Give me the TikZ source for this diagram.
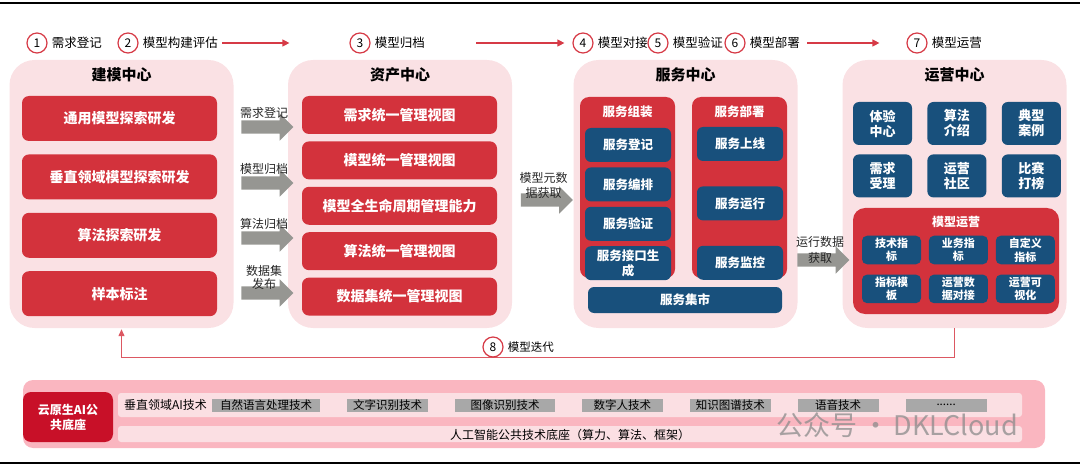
\documentclass[tikz,border=0pt]{standalone}
\usepackage{fontspec}
\setmainfont{Noto Sans CJK SC}
\usepackage{tikz}
\usetikzlibrary{shapes.geometric, shapes.arrows, arrows.meta, positioning, calc}
\definecolor{panel_bg}{RGB}{250, 225, 228}
\definecolor{box_red}{RGB}{211, 50, 60}
\definecolor{box_blue}{RGB}{24, 80, 124}
\definecolor{arrow_gray}{RGB}{150, 150, 146}
\definecolor{step_red}{RGB}{214, 58, 70}
\definecolor{base_pink}{RGB}{250, 182, 192}
\definecolor{strip_pink}{RGB}{251, 223, 227}
\definecolor{chip_gray}{RGB}{168, 168, 168}
\definecolor{base_red}{RGB}{200, 16, 40}
\tikzstyle{panel} = [rectangle, rounded corners=25pt, fill=panel_bg, minimum width=224pt, minimum height=268pt]
\tikzstyle{centertitle} = [font=\bfseries\fontsize{15}{17}\selectfont]
\tikzstyle{redbox} = [rectangle, rounded corners=7pt, fill=box_red, text=white, minimum width=195pt, font=\bfseries\fontsize{14}{16}\selectfont]
\tikzstyle{bluebox} = [rectangle, rounded corners=6pt, fill=box_blue, text=white, inner sep=1pt, align=center]
\tikzstyle{stepnum} = [circle, draw=step_red, line width=1.2pt, minimum size=20pt, inner sep=0pt, font=\fontsize{12}{12}\selectfont]
\tikzstyle{steplabel} = [inner sep=1pt, font=\fontsize{12.5}{14}\selectfont]
\tikzstyle{fatarrow} = [single arrow, fill=arrow_gray, minimum height=52pt, inner xsep=0pt, inner ysep=6.5pt, single arrow head extend=7pt]
\tikzstyle{arrowlabel} = [inner sep=1pt, align=center, text=black!85, font=\fontsize{12}{13}\selectfont]
\tikzstyle{chip} = [rectangle, fill=chip_gray, minimum height=13pt, inner sep=0pt, text depth=0pt, font=\fontsize{11.5}{12}\selectfont]
\tikzstyle{arrow} = [line width=1.2pt, draw=step_red, -{Triangle[length=7pt, width=7pt]}]

\begin{document}
\begin{tikzpicture}[x=1pt, y=-1pt]
\useasboundingbox (0,0) rectangle (1080,468);

% Frame lines
\draw[line width=1.5pt] (0,3) -- (1080,3);
\draw[line width=1.5pt] (0,463) -- (1080,463);

% Step row
\node[stepnum] (n1) at (37,43) {1};
\node[steplabel, right=3pt of n1] (t1) {需求登记};
\node[stepnum] (n2) at (128,43) {2};
\node[steplabel, right=3pt of n2] (t2) {模型构建评估};
\node[stepnum] (n3) at (360,43) {3};
\node[steplabel, right=3pt of n3] (t3) {模型归档};
\node[stepnum] (n4) at (583,43) {4};
\node[steplabel, right=3pt of n4] (t4) {模型对接};
\node[stepnum] (n5) at (658,43) {5};
\node[steplabel, right=3pt of n5] (t5) {模型验证};
\node[stepnum] (n6) at (735,43) {6};
\node[steplabel, right=3pt of n6] (t6) {模型部署};
\node[stepnum] (n7) at (917,43) {7};
\node[steplabel, right=3pt of n7] (t7) {模型运营};

\draw[arrow, shorten <=3pt, shorten >=60pt] (t2.east) -- (n3.west);
\draw[arrow, shorten <=50pt, shorten >=8pt] (t3.east) -- (n4.west);
\draw[arrow, shorten <=6pt, shorten >=27pt] (t6.east) -- (n7.west);

% Modeling center
\node[panel] (jm) at (121.5,194) {};
\node[centertitle, below=4pt of jm.north] (jm_title) {建模中心};
\node[redbox, minimum height=45pt] (jm1) at (119.5,118.5) {通用模型探索研发};
\node[redbox, minimum height=45pt, below=13pt of jm1] (jm2) {垂直领域模型探索研发};
\node[redbox, minimum height=45pt, below=13pt of jm2] (jm3) {算法探索研发};
\node[redbox, minimum height=45pt, below=13pt of jm3] (jm4) {样本标注};

% Asset center
\node[panel] (zc) at (400,194) {};
\node[centertitle, below=4pt of zc.north] (zc_title) {资产中心};
\node[redbox, minimum height=38pt] (zc1) at (399.5,115) {需求统一管理视图};
\node[redbox, minimum height=38pt, below=7pt of zc1] (zc2) {模型统一管理视图};
\node[redbox, minimum height=38pt, below=7pt of zc2] (zc3) {模型全生命周期管理能力};
\node[redbox, minimum height=38pt, below=7pt of zc3] (zc4) {算法统一管理视图};
\node[redbox, minimum height=38pt, below=7pt of zc4] (zc5) {数据集统一管理视图};

% Arrows into asset center
\node[fatarrow] (a1) at (264,127) {};
\node[fatarrow] (a2) at (264,183) {};
\node[fatarrow] (a3) at (264,238) {};
\node[fatarrow] (a4) at (264,293) {};
\node[arrowlabel, above=0pt of a1] {需求登记};
\node[arrowlabel, above=0pt of a2] {模型归档};
\node[arrowlabel, above=0pt of a3] {算法归档};
\node[arrowlabel, above=-5pt of a4] {数据集\\发布};

% Service center
\node[panel] (fw) at (685.5,194) {};
\node[centertitle, below=4pt of fw.north] (fw_title) {服务中心};
\node[fatarrow] (a5) at (543.5,200) {};
\node[arrowlabel, above=-7pt of a5, font=\fontsize{12}{15}\selectfont] {模型元数\\据获取};

\node[rectangle, rounded corners=9pt, fill=box_red, minimum width=95pt, minimum height=181pt] (fw_l) at (627.5,187.5) {};
\node[text=white, font=\bfseries\fontsize{12.5}{14}\selectfont, below=5pt of fw_l.north] {服务组装};
\node[bluebox, minimum width=86pt, minimum height=34pt, font=\bfseries\fontsize{12.5}{15}\selectfont] (fl1) at (628,145) {服务登记};
\node[bluebox, minimum width=86pt, minimum height=34pt, font=\bfseries\fontsize{12.5}{15}\selectfont, below=5pt of fl1] (fl2) {服务编排};
\node[bluebox, minimum width=86pt, minimum height=34pt, font=\bfseries\fontsize{12.5}{15}\selectfont, below=5pt of fl2] (fl3) {服务验证};
\node[bluebox, minimum width=86pt, minimum height=34pt, font=\bfseries\fontsize{12.5}{15}\selectfont, below=5pt of fl3] (fl4) {服务接口生\\成};

\node[rectangle, rounded corners=9pt, fill=box_red, minimum width=95pt, minimum height=181pt] (fw_r) at (739.5,187.5) {};
\node[text=white, font=\bfseries\fontsize{12.5}{14}\selectfont, below=5pt of fw_r.north] {服务部署};
\node[bluebox, minimum width=86pt, minimum height=34pt, font=\bfseries\fontsize{12.5}{15}\selectfont] (fr1) at (740,144) {服务上线};
\node[bluebox, minimum width=86pt, minimum height=34pt, font=\bfseries\fontsize{12.5}{15}\selectfont, below=25pt of fr1] (fr2) {服务运行};
\node[bluebox, minimum width=86pt, minimum height=34pt, font=\bfseries\fontsize{12.5}{15}\selectfont, below=25pt of fr2] (fr3) {服务监控};

\node[bluebox, minimum width=194pt, minimum height=26pt, font=\bfseries\fontsize{12.5}{15}\selectfont] (fw_m) at (685,300) {服务集市};

% Operation center
\node[panel] (yy) at (954.5,194) {};
\node[centertitle, below=4pt of yy.north] (yy_title) {运营中心};
\node[fatarrow] (a6) at (820,260) {};
\node[arrowlabel, above=-12pt of a6, font=\fontsize{12}{16}\selectfont] {运行数据\\获取};

\node[bluebox, minimum width=59pt, minimum height=43pt, font=\bfseries\fontsize{13}{15}\selectfont] (y1) at (882.5,123.5) {体验\\中心};
\node[bluebox, minimum width=59pt, minimum height=43pt, font=\bfseries\fontsize{13}{15}\selectfont, right=15pt of y1] (y2) {算法\\介绍};
\node[bluebox, minimum width=59pt, minimum height=43pt, font=\bfseries\fontsize{13}{15}\selectfont, right=15pt of y2] (y3) {典型\\案例};
\node[bluebox, minimum width=59pt, minimum height=43pt, font=\bfseries\fontsize{13}{15}\selectfont, below=9pt of y1] (y4) {需求\\受理};
\node[bluebox, minimum width=59pt, minimum height=43pt, font=\bfseries\fontsize{13}{15}\selectfont, right=15pt of y4] (y5) {运营\\社区};
\node[bluebox, minimum width=59pt, minimum height=43pt, font=\bfseries\fontsize{13}{15}\selectfont, right=15pt of y5] (y6) {比赛\\打榜};

\node[rectangle, rounded corners=12pt, fill=box_red, minimum width=206pt, minimum height=106pt] (yy_m) at (956,261) {};
\node[text=white, font=\bfseries\fontsize{12}{14}\selectfont, below=5pt of yy_m.north] {模型运营};
\node[bluebox, rounded corners=5pt, minimum width=59pt, minimum height=28.5pt, font=\bfseries\fontsize{11}{13.5}\selectfont] (m1) at (891.5,250) {技术指\\标};
\node[bluebox, rounded corners=5pt, minimum width=59pt, minimum height=28.5pt, font=\bfseries\fontsize{11}{13.5}\selectfont, right=7.5pt of m1] (m2) {业务指\\标};
\node[bluebox, rounded corners=5pt, minimum width=59pt, minimum height=28.5pt, font=\bfseries\fontsize{11}{13.5}\selectfont, right=7.5pt of m2] (m3) {自定义\\指标};
\node[bluebox, rounded corners=5pt, minimum width=59pt, minimum height=28.5pt, font=\bfseries\fontsize{11}{13.5}\selectfont, below=10pt of m1] (m4) {指标模\\板};
\node[bluebox, rounded corners=5pt, minimum width=59pt, minimum height=28.5pt, font=\bfseries\fontsize{11}{13.5}\selectfont, right=7.5pt of m4] (m5) {运营数\\据对接};
\node[bluebox, rounded corners=5pt, minimum width=59pt, minimum height=28.5pt, font=\bfseries\fontsize{11}{13.5}\selectfont, right=7.5pt of m5] (m6) {运营可\\视化};

% Iteration loop
\draw[line width=1.2pt, draw=step_red!85, -{Triangle[length=7pt, width=6pt]}, shorten >=1pt] (yy.south) -- ++(0,29) -| (jm.south);
\node[stepnum, fill=white] (n8) at (493,347) {8};
\node[steplabel, font=\fontsize{11.5}{13}\selectfont, right=3pt of n8] (t8) {模型迭代};

% Cloud native AI base
\node[rectangle, rounded corners=10pt, fill=base_pink, minimum width=1022pt, minimum height=68pt] (base) at (534,414) {};
\node[rectangle, rounded corners=8pt, fill=base_red, text=white, align=center, minimum width=90pt, minimum height=50pt, font=\bfseries\fontsize{12}{15}\selectfont] (base_l) at (68,417) {云原生AI公\\共底座};
\node[rectangle, rounded corners=3pt, fill=strip_pink, minimum width=904pt, minimum height=24pt] (strip1) at (570,405) {};
\node[rectangle, rounded corners=3pt, fill=strip_pink, minimum width=904pt, minimum height=16pt, inner sep=0pt, text depth=0pt, font=\fontsize{12}{12}\selectfont] (strip2) at (570,434) {人工智能公共技术底座（算力、算法、框架）};
\node[inner sep=1pt, font=\fontsize{12}{12}\selectfont, right=5pt of strip1.west] (vtech) {垂直领域AI技术};
\node[chip, minimum width=108pt, right=4pt of vtech] (c1) {自然语言处理技术};
\node[chip, minimum width=81pt, right=26.5pt of c1] (c2) {文字识别技术};
\node[chip, minimum width=100pt, right=26.5pt of c2] (c3) {图像识别技术};
\node[chip, minimum width=81pt, right=26.5pt of c3] (c4) {数字人技术};
\node[chip, minimum width=81pt, right=26.5pt of c4] (c5) {知识图谱技术};
\node[chip, minimum width=81pt, right=26.5pt of c5] (c6) {语音技术};
\node[chip, minimum width=81pt, right=26.5pt of c6] (c7) {......};

% Watermark
\node[anchor=west, text=black!45, opacity=0.75, font=\fontsize{27}{27}\selectfont] (wm) at (773,425) {公众号\,·\,DKLCloud};

\end{tikzpicture}
\end{document}
